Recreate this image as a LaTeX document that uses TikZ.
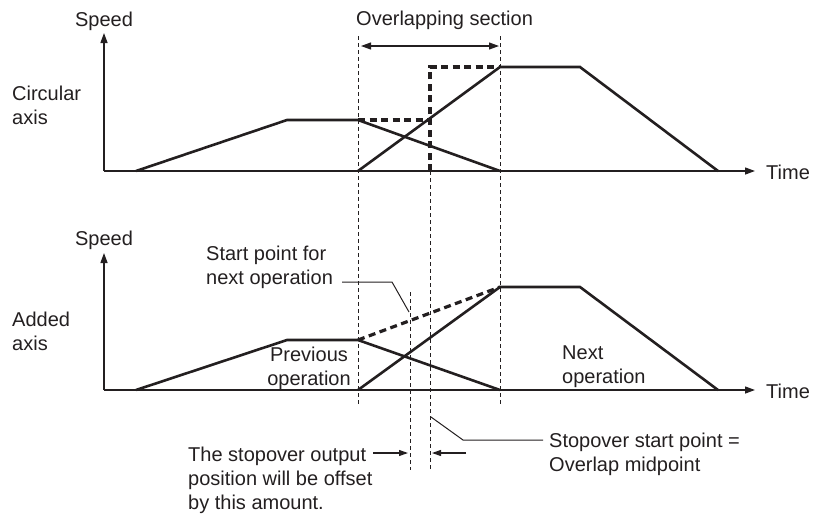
\documentclass[tikz,border=0pt]{standalone}
\usepackage{fontspec}
\setmainfont{Liberation Sans}
\usetikzlibrary{arrows.meta}
\definecolor{ink}{HTML}{231F20}
\begin{document}
\begin{tikzpicture}[x=1pt,y=-1pt,
  lbl/.style={font=\fontsize{20}{24}\selectfont, text=ink, inner sep=0pt},
  axisline/.style={line width=1.3pt, draw=ink, -{Triangle[length=10pt,width=7pt]}},
  curve/.style={line width=2.6pt, draw=ink, line join=miter},
  bigdash/.style={line width=3.2pt, draw=ink, dash pattern=on 7pt off 4.5pt},
  guide/.style={line width=0.9pt, draw=ink, dash pattern=on 4pt off 3pt},
  callout/.style={line width=1pt, draw=ink},
  dimarrow/.style={line width=1.1pt, draw=ink, -{Triangle[length=9pt,width=6pt]}},
  twoarrow/.style={line width=1.1pt, draw=ink, {Triangle[length=10pt,width=7pt]}-{Triangle[length=10pt,width=7pt]}}
]
\useasboundingbox (0,0) rectangle (820,515);

% ---------- guides ----------
\draw[guide] (358,36) -- (358,405);
\draw[guide] (500,36) -- (500,405);
\draw[guide] (430,171) -- (430,470);
\draw[guide] (410,292) -- (410,470);

% ---------- top chart ----------
\coordinate (O1) at (104,171);
\coordinate (Y1) at (104,33);
\coordinate (X1) at (755,171);
\draw[axisline] (O1) -- (Y1);
\draw[axisline] (O1) -- (X1);
\node[lbl, anchor=base] (spd1) at (104,26) {Speed};
\node[lbl, anchor=base west] (time1) at (766,179) {Time};
\node[lbl, anchor=base west, align=left] (circ) at (12,124) {Circular\\axis};
\node[lbl, anchor=base west] (ovl) at (356,25) {Overlapping section};
\coordinate (OA) at (361,46);
\coordinate (OB) at (499,46);
\draw[twoarrow] (OA) -- (OB);

\coordinate (a1) at (136,171);
\coordinate (a2) at (287,120);
\coordinate (a3) at (358,120);
\coordinate (a4) at (500,171);
\coordinate (b1) at (358,171);
\coordinate (b2) at (500,67);
\coordinate (b3) at (580,67);
\coordinate (b4) at (718,171);
\coordinate (m1) at (430,120);
\coordinate (m2) at (430,67);
\coordinate (m0) at (430,171);
\draw[bigdash] (a3) -- (m1);
\draw[bigdash] (m0) -- (m2) -- (b2);
\draw[curve] (a1) -- (a2) -- (a3) -- (a4);
\draw[curve] (b1) -- (b2) -- (b3) -- (b4);

% ---------- bottom chart ----------
\coordinate (O2) at (104,390);
\coordinate (Y2) at (104,253);
\coordinate (X2) at (755,390);
\draw[axisline] (O2) -- (Y2);
\draw[axisline] (O2) -- (X2);
\node[lbl, anchor=base] (spd2) at (104,245) {Speed};
\node[lbl, anchor=base west] (time2) at (766,398) {Time};
\node[lbl, anchor=base west, align=left] (added) at (12,350) {Added\\axis};

\coordinate (c1) at (136,390);
\coordinate (c2) at (287,340);
\coordinate (c3) at (358,340);
\coordinate (c4) at (500,390);
\coordinate (d1) at (358,390);
\coordinate (d2) at (500,287);
\coordinate (d3) at (580,287);
\coordinate (d4) at (718,390);
\draw[bigdash] (c3) -- (d2);
\draw[curve] (c1) -- (c2) -- (c3) -- (c4);
\draw[curve] (d1) -- (d2) -- (d3) -- (d4);

\node[lbl, anchor=base, align=center] (prev) at (309,385) {Previous\\operation};
\node[lbl, anchor=base west, align=left] (next) at (562,383) {Next\\operation};

% start point callout
\node[lbl, anchor=base west, align=left] (start) at (206,284) {Start point for\\next operation};
\coordinate (s1) at (342,282);
\coordinate (s2) at (392,282);
\coordinate (s3) at (409,312);
\draw[callout] (s1) -- (s2) -- (s3);

% stopover callout
\node[lbl, anchor=base west, align=left] (stop) at (549,471) {Stopover start point =\\Overlap midpoint};
\coordinate (t1) at (431,417);
\coordinate (t2) at (463,440);
\coordinate (t3) at (543,440);
\draw[callout] (t1) -- (t2) -- (t3);

% offset arrows
\node[lbl, anchor=base west, align=left] (offs) at (188,509) {The stopover output\\position will be offset\\by this amount.};
\coordinate (u1) at (373,453);
\coordinate (u2) at (408,453);
\coordinate (v1) at (466,453);
\coordinate (v2) at (432,453);
\draw[dimarrow] (u1) -- (u2);
\draw[dimarrow] (v1) -- (v2);
\end{tikzpicture}
\end{document}
